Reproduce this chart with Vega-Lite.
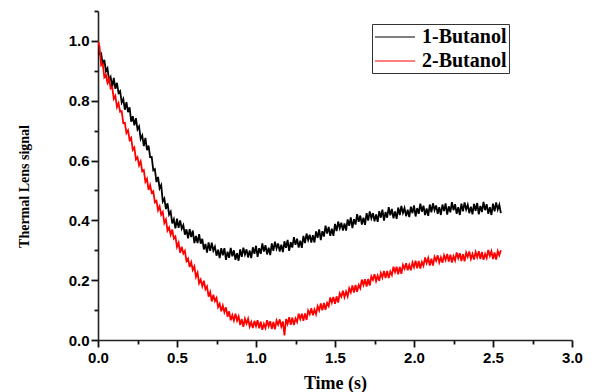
{
  "$schema": "https://vega.github.io/schema/vega-lite/v6.json",
  "autosize": "none",
  "width": 474,
  "height": 329,
  "padding": {"left": 98, "top": 11, "right": 23, "bottom": 52},
  "background": "white",
  "config": {
    "view": {"stroke": null},
    "axis": {"grid": false, "labelFlush": false, "labelOverlap": false, "domainColor": "#222", "domainWidth": 1.6, "labelFont": "Liberation Sans", "labelFontWeight": "bold", "labelFontSize": 15, "labelColor": "black", "titleColor": "black", "titleFont": "Liberation Serif", "titleFontWeight": "bold"}
  },
  "data": {"values": [
    {"t":0.00,"a":1.000,"b":1.000},{"t":0.01,"a":0.955,"b":0.979},{"t":0.02,"a":0.958,"b":0.918},{"t":0.03,"a":0.921,"b":0.923},
    {"t":0.04,"a":0.937,"b":0.879},{"t":0.05,"a":0.899,"b":0.887},{"t":0.06,"a":0.909,"b":0.860},{"t":0.07,"a":0.867,"b":0.874},
    {"t":0.08,"a":0.879,"b":0.841},{"t":0.09,"a":0.846,"b":0.845},{"t":0.10,"a":0.876,"b":0.806},{"t":0.11,"a":0.840,"b":0.816},
    {"t":0.12,"a":0.860,"b":0.779},{"t":0.13,"a":0.826,"b":0.792},{"t":0.14,"a":0.832,"b":0.763},{"t":0.15,"a":0.794,"b":0.765},
    {"t":0.16,"a":0.806,"b":0.725},{"t":0.17,"a":0.770,"b":0.726},{"t":0.18,"a":0.795,"b":0.692},{"t":0.19,"a":0.762,"b":0.701},
    {"t":0.20,"a":0.778,"b":0.669},{"t":0.21,"a":0.730,"b":0.676},{"t":0.22,"a":0.748,"b":0.636},{"t":0.23,"a":0.718,"b":0.644},
    {"t":0.24,"a":0.742,"b":0.604},{"t":0.25,"a":0.704,"b":0.611},{"t":0.26,"a":0.714,"b":0.584},{"t":0.27,"a":0.672,"b":0.597},
    {"t":0.28,"a":0.684,"b":0.564},{"t":0.29,"a":0.648,"b":0.568},{"t":0.30,"a":0.676,"b":0.529},{"t":0.31,"a":0.635,"b":0.539},
    {"t":0.32,"a":0.650,"b":0.502},{"t":0.33,"a":0.611,"b":0.518},{"t":0.34,"a":0.612,"b":0.492},{"t":0.35,"a":0.567,"b":0.497},
    {"t":0.36,"a":0.571,"b":0.460},{"t":0.37,"a":0.528,"b":0.465},{"t":0.38,"a":0.545,"b":0.434},{"t":0.39,"a":0.507,"b":0.447},
    {"t":0.40,"a":0.518,"b":0.419},{"t":0.41,"a":0.463,"b":0.428},{"t":0.42,"a":0.473,"b":0.391},{"t":0.43,"a":0.438,"b":0.403},
    {"t":0.44,"a":0.457,"b":0.366},{"t":0.45,"a":0.419,"b":0.376},{"t":0.46,"a":0.429,"b":0.352},{"t":0.47,"a":0.390,"b":0.369},
    {"t":0.48,"a":0.404,"b":0.339},{"t":0.49,"a":0.373,"b":0.346},{"t":0.50,"a":0.406,"b":0.311},{"t":0.51,"a":0.375,"b":0.325},
    {"t":0.52,"a":0.400,"b":0.292},{"t":0.53,"a":0.372,"b":0.312},{"t":0.54,"a":0.384,"b":0.289},{"t":0.55,"a":0.352,"b":0.298},
    {"t":0.56,"a":0.370,"b":0.264},{"t":0.57,"a":0.340,"b":0.272},{"t":0.58,"a":0.371,"b":0.244},{"t":0.59,"a":0.344,"b":0.260},
    {"t":0.60,"a":0.366,"b":0.234},{"t":0.61,"a":0.324,"b":0.246},{"t":0.62,"a":0.348,"b":0.211},{"t":0.63,"a":0.324,"b":0.225},
    {"t":0.64,"a":0.354,"b":0.190},{"t":0.65,"a":0.322,"b":0.202},{"t":0.66,"a":0.338,"b":0.180},{"t":0.67,"a":0.303,"b":0.198},
    {"t":0.68,"a":0.321,"b":0.170},{"t":0.69,"a":0.292,"b":0.179},{"t":0.70,"a":0.326,"b":0.145},{"t":0.71,"a":0.298,"b":0.160},
    {"t":0.72,"a":0.325,"b":0.129},{"t":0.73,"a":0.299,"b":0.151},{"t":0.74,"a":0.312,"b":0.130},{"t":0.75,"a":0.282,"b":0.141},
    {"t":0.76,"a":0.302,"b":0.110},{"t":0.77,"a":0.274,"b":0.121},{"t":0.78,"a":0.307,"b":0.096},{"t":0.79,"a":0.283,"b":0.115},
    {"t":0.80,"a":0.307,"b":0.093},{"t":0.81,"a":0.268,"b":0.109},{"t":0.82,"a":0.295,"b":0.078},{"t":0.83,"a":0.275,"b":0.096},
    {"t":0.84,"a":0.308,"b":0.066},{"t":0.85,"a":0.280,"b":0.083},{"t":0.86,"a":0.300,"b":0.065},{"t":0.87,"a":0.268,"b":0.088},
    {"t":0.88,"a":0.290,"b":0.065},{"t":0.89,"a":0.265,"b":0.079},{"t":0.90,"a":0.303,"b":0.050},{"t":0.91,"a":0.278,"b":0.070},
    {"t":0.92,"a":0.309,"b":0.044},{"t":0.93,"a":0.286,"b":0.071},{"t":0.94,"a":0.303,"b":0.055},{"t":0.95,"a":0.276,"b":0.071},
    {"t":0.96,"a":0.299,"b":0.045},{"t":0.97,"a":0.274,"b":0.060},{"t":0.98,"a":0.310,"b":0.040},{"t":0.99,"a":0.288,"b":0.064},
    {"t":1.00,"a":0.315,"b":0.046},{"t":1.01,"a":0.278,"b":0.066},{"t":1.02,"a":0.307,"b":0.039},{"t":1.03,"a":0.288,"b":0.061},
    {"t":1.04,"a":0.323,"b":0.034},{"t":1.05,"a":0.296,"b":0.054},{"t":1.06,"a":0.317,"b":0.040},{"t":1.07,"a":0.286,"b":0.066},
    {"t":1.08,"a":0.309,"b":0.046},{"t":1.09,"a":0.284,"b":0.063},{"t":1.10,"a":0.323,"b":0.037},{"t":1.11,"a":0.298,"b":0.060},
    {"t":1.12,"a":0.329,"b":0.036},{"t":1.13,"a":0.306,"b":0.065},{"t":1.14,"a":0.323,"b":0.051},{"t":1.15,"a":0.296,"b":0.069},
    {"t":1.16,"a":0.319,"b":0.045},{"t":1.17,"a":0.294,"b":0.062},{"t":1.18,"a":0.330,"b":0.015},{"t":1.19,"a":0.308,"b":0.070},
    {"t":1.20,"a":0.335,"b":0.054},{"t":1.21,"a":0.298,"b":0.076},{"t":1.22,"a":0.327,"b":0.051},{"t":1.23,"a":0.309,"b":0.075},
    {"t":1.24,"a":0.344,"b":0.050},{"t":1.25,"a":0.318,"b":0.072},{"t":1.26,"a":0.339,"b":0.060},{"t":1.27,"a":0.309,"b":0.088},
    {"t":1.28,"a":0.332,"b":0.070},{"t":1.29,"a":0.308,"b":0.088},{"t":1.30,"a":0.348,"b":0.064},{"t":1.31,"a":0.324,"b":0.089},
    {"t":1.32,"a":0.356,"b":0.067},{"t":1.33,"a":0.334,"b":0.098},{"t":1.34,"a":0.352,"b":0.086},{"t":1.35,"a":0.326,"b":0.106},
    {"t":1.36,"a":0.350,"b":0.083},{"t":1.37,"a":0.326,"b":0.102},{"t":1.38,"a":0.363,"b":0.086},{"t":1.39,"a":0.342,"b":0.113},
    {"t":1.40,"a":0.370,"b":0.099},{"t":1.41,"a":0.334,"b":0.122},{"t":1.42,"a":0.364,"b":0.099},{"t":1.43,"a":0.346,"b":0.124},
    {"t":1.44,"a":0.382,"b":0.101},{"t":1.45,"a":0.356,"b":0.124},{"t":1.46,"a":0.378,"b":0.113},{"t":1.47,"a":0.348,"b":0.142},
    {"t":1.48,"a":0.372,"b":0.125},{"t":1.49,"a":0.348,"b":0.144},{"t":1.50,"a":0.388,"b":0.121},{"t":1.51,"a":0.364,"b":0.146},
    {"t":1.52,"a":0.396,"b":0.125},{"t":1.53,"a":0.374,"b":0.156},{"t":1.54,"a":0.392,"b":0.145},{"t":1.55,"a":0.366,"b":0.165},
    {"t":1.56,"a":0.390,"b":0.143},{"t":1.57,"a":0.366,"b":0.162},{"t":1.58,"a":0.403,"b":0.146},{"t":1.59,"a":0.382,"b":0.173},
    {"t":1.60,"a":0.410,"b":0.159},{"t":1.61,"a":0.374,"b":0.182},{"t":1.62,"a":0.404,"b":0.159},{"t":1.63,"a":0.386,"b":0.184},
    {"t":1.64,"a":0.421,"b":0.161},{"t":1.65,"a":0.395,"b":0.184},{"t":1.66,"a":0.416,"b":0.173},{"t":1.67,"a":0.386,"b":0.202},
    {"t":1.68,"a":0.409,"b":0.184},{"t":1.69,"a":0.385,"b":0.203},{"t":1.70,"a":0.424,"b":0.179},{"t":1.71,"a":0.399,"b":0.204},
    {"t":1.72,"a":0.430,"b":0.182},{"t":1.73,"a":0.407,"b":0.213},{"t":1.74,"a":0.424,"b":0.201},{"t":1.75,"a":0.397,"b":0.220},
    {"t":1.76,"a":0.420,"b":0.197},{"t":1.77,"a":0.395,"b":0.215},{"t":1.78,"a":0.431,"b":0.198},{"t":1.79,"a":0.409,"b":0.224},
    {"t":1.80,"a":0.436,"b":0.209},{"t":1.81,"a":0.399,"b":0.231},{"t":1.82,"a":0.428,"b":0.207},{"t":1.83,"a":0.409,"b":0.231},
    {"t":1.84,"a":0.444,"b":0.207},{"t":1.85,"a":0.417,"b":0.229},{"t":1.86,"a":0.438,"b":0.217},{"t":1.87,"a":0.407,"b":0.245},
    {"t":1.88,"a":0.430,"b":0.227},{"t":1.89,"a":0.405,"b":0.245},{"t":1.90,"a":0.443,"b":0.220},{"t":1.91,"a":0.418,"b":0.244},
    {"t":1.92,"a":0.448,"b":0.221},{"t":1.93,"a":0.425,"b":0.251},{"t":1.94,"a":0.441,"b":0.238},{"t":1.95,"a":0.414,"b":0.257},
    {"t":1.96,"a":0.436,"b":0.233},{"t":1.97,"a":0.411,"b":0.251},{"t":1.98,"a":0.446,"b":0.233},{"t":1.99,"a":0.424,"b":0.259},
    {"t":2.00,"a":0.450,"b":0.243},{"t":2.01,"a":0.413,"b":0.265},{"t":2.02,"a":0.441,"b":0.240},{"t":2.03,"a":0.422,"b":0.264},
    {"t":2.04,"a":0.456,"b":0.239},{"t":2.05,"a":0.429,"b":0.261},{"t":2.06,"a":0.449,"b":0.248},{"t":2.07,"a":0.418,"b":0.276},
    {"t":2.08,"a":0.440,"b":0.257},{"t":2.09,"a":0.415,"b":0.274},{"t":2.10,"a":0.453,"b":0.249},{"t":2.11,"a":0.427,"b":0.272},
    {"t":2.12,"a":0.457,"b":0.249},{"t":2.13,"a":0.434,"b":0.278},{"t":2.14,"a":0.450,"b":0.265},{"t":2.15,"a":0.422,"b":0.283},
    {"t":2.16,"a":0.444,"b":0.259},{"t":2.17,"a":0.418,"b":0.276},{"t":2.18,"a":0.453,"b":0.258},{"t":2.19,"a":0.431,"b":0.283},
    {"t":2.20,"a":0.457,"b":0.267},{"t":2.21,"a":0.419,"b":0.288},{"t":2.22,"a":0.447,"b":0.262},{"t":2.23,"a":0.427,"b":0.285},
    {"t":2.24,"a":0.461,"b":0.259},{"t":2.25,"a":0.434,"b":0.280},{"t":2.26,"a":0.454,"b":0.266},{"t":2.27,"a":0.422,"b":0.293},
    {"t":2.28,"a":0.444,"b":0.273},{"t":2.29,"a":0.418,"b":0.290},{"t":2.30,"a":0.456,"b":0.264},{"t":2.31,"a":0.430,"b":0.287},
    {"t":2.32,"a":0.460,"b":0.263},{"t":2.33,"a":0.436,"b":0.292},{"t":2.34,"a":0.452,"b":0.278},{"t":2.35,"a":0.424,"b":0.296},
    {"t":2.36,"a":0.446,"b":0.271},{"t":2.37,"a":0.420,"b":0.288},{"t":2.38,"a":0.455,"b":0.269},{"t":2.39,"a":0.432,"b":0.294},
    {"t":2.40,"a":0.458,"b":0.277},{"t":2.41,"a":0.420,"b":0.297},{"t":2.42,"a":0.448,"b":0.271},{"t":2.43,"a":0.428,"b":0.294},
    {"t":2.44,"a":0.462,"b":0.268},{"t":2.45,"a":0.434,"b":0.288},{"t":2.46,"a":0.454,"b":0.274},{"t":2.47,"a":0.422,"b":0.301},
    {"t":2.48,"a":0.444,"b":0.281},{"t":2.49,"a":0.418,"b":0.297},{"t":2.50,"a":0.456,"b":0.271},{"t":2.51,"a":0.430,"b":0.293},
    {"t":2.52,"a":0.460,"b":0.269},{"t":2.53,"a":0.436,"b":0.297},{"t":2.54,"a":0.452,"b":0.283},{"t":2.55,"a":0.424,"b":0.300}
  ]},
  "transform": [{"fold": ["a", "b"], "as": ["key", "v"]}],
  "mark": {"type": "line", "strokeWidth": 1.8, "clip": true},
  "encoding": {
    "x": {"field": "t", "type": "quantitative", "scale": {"domain": [0, 3], "nice": false},
      "axis": {"title": "Time (s)", "titleFontSize": 18, "titleY": 43, "titleBaseline": "middle",
        "values": [0, 0.25, 0.5, 0.75, 1, 1.25, 1.5, 1.75, 2, 2.25, 2.5, 2.75, 3],
        "labelExpr": "round(datum.value * 4) % 2 == 0 ? format(datum.value, '.1f') : ''",
        "ticks": true, "tickColor": "#111", "tickWidth": 1.8,
        "tickSize": {"condition": {"test": "round(datum.value * 4) % 2 == 0", "value": 7}, "value": 4},
        "labelPadding": 3}},
    "y": {"field": "v", "type": "quantitative", "scale": {"domain": [0, 1.1], "nice": false, "zero": false},
      "axis": {"title": "Thermal Lens signal", "titleFontSize": 14, "titleX": -74, "titleY": 175, "titleAlign": "center", "titleBaseline": "middle", "titleAngle": -90,
        "values": [0, 0.1, 0.2, 0.3, 0.4, 0.5, 0.6, 0.7, 0.8, 0.9, 1.0, 1.1],
        "labelExpr": "round(datum.value * 10) % 2 == 0 ? format(datum.value, '.1f') : ''",
        "ticks": true, "tickColor": "#111", "tickWidth": 1.8,
        "tickSize": {"condition": {"test": "round(datum.value * 10) % 2 == 0", "value": 7}, "value": 4},
        "labelPadding": 2}},
    "color": {"field": "key", "type": "nominal", "scale": {"domain": ["a", "b"], "range": ["#000000", "#ff0000"]},
      "legend": {"title": null, "orient": "none", "legendX": 274, "legendY": 13, "labelExpr": "datum.value == 'a' ? '1-Butanol' : '2-Butanol'", "symbolType": "M-1,0H3", "symbolSize": 400, "symbolStrokeWidth": 1.2, "labelFont": "Liberation Serif", "labelFontWeight": "bold", "labelFontSize": 20, "labelColor": "black", "strokeColor": "#333", "padding": 2, "labelOffset": 26, "rowPadding": 3}}
  }
}
